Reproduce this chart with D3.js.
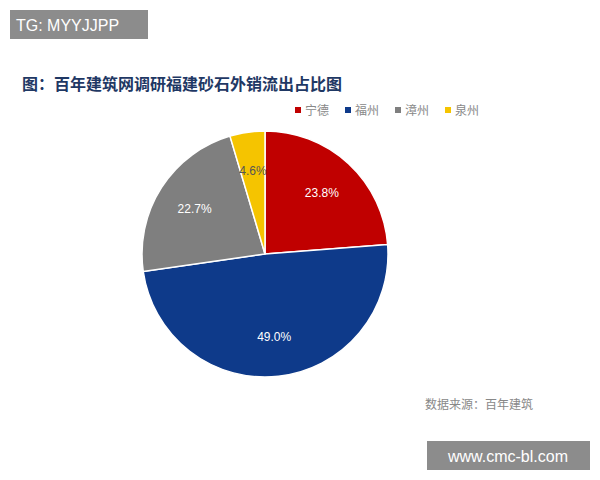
<!DOCTYPE html>
<html><head><meta charset="utf-8">
<script src="https://cdn.jsdelivr.net/npm/d3@7"></script>
<style>body{margin:0;background:#fff}</style>
</head><body>
<svg id="chart" width="600" height="480"></svg>
<script>
var regions = ["宁德", "福州", "漳州", "泉州"];
var shares = [23.8, 49.0, 22.7, 4.6];
var colors = ["#c00000", "#0e3a8a", "#7f7f7f", "#f5c400"];

var svg = d3.select("#chart");
var cjk = "'Noto Sans CJK SC', sans-serif";

// watermark boxes
svg.append("rect").attr("x", 10).attr("y", 10).attr("width", 138).attr("height", 29).attr("fill", "#8c8c8c");
svg.append("text").attr("x", 16).attr("y", 31).attr("fill", "#fff")
  .style("font", "16px 'Liberation Sans', Arial").text("TG: MYYJJPP");
svg.append("rect").attr("x", 427).attr("y", 441).attr("width", 163).attr("height", 29).attr("fill", "#8c8c8c");
svg.append("text").attr("x", 508).attr("y", 462).attr("fill", "#fff").attr("text-anchor", "middle")
  .style("font", "16px 'Liberation Sans', Arial").text("www.cmc-bl.com");

svg.append("text").attr("x", 22).attr("y", 90).attr("fill", "#1f3864")
  .style("font", "bold 16px " + cjk).text("图：百年建筑网调研福建砂石外销流出占比图");

// legend
var lg = svg.append("g").selectAll("g").data(regions).enter().append("g")
  .attr("transform", function(d, i) { return "translate(" + (295 + i * 50) + ",111)"; });
lg.append("rect").attr("x", 0).attr("y", -4).attr("width", 6).attr("height", 6)
  .attr("fill", function(d, i) { return colors[i]; });
lg.append("text").attr("x", 10).attr("y", 4).attr("fill", "#888")
  .style("font", "12px " + cjk).text(function(d) { return d; });

// pie
var r = 123;
var g = svg.append("g").attr("transform", "translate(265,254)");
var pie = d3.pie().sort(null).value(function(d) { return d; });
var arc = d3.arc().innerRadius(0).outerRadius(r);
var labelArc = d3.arc().innerRadius(r * 0.68).outerRadius(r * 0.68);
var arcs = pie(shares);
g.selectAll("path").data(arcs).enter().append("path")
  .attr("d", arc).attr("fill", function(d, i) { return colors[i]; })
  .attr("stroke", "#fff").attr("stroke-width", 1.5);
g.selectAll("text").data(arcs).enter().append("text")
  .attr("transform", function(d) { return "translate(" + labelArc.centroid(d) + ")"; })
  .attr("text-anchor", "middle").attr("dy", "0.35em")
  .attr("fill", function(d, i) { return i == 3 ? "#555" : "#fff"; })
  .style("font", "12px 'Liberation Sans', Arial")
  .text(function(d) { return d.data.toFixed(1) + "%"; });

svg.append("text").attr("x", 425).attr("y", 409).attr("fill", "#888")
  .style("font", "12px " + cjk).text("数据来源：百年建筑");
</script>
</body></html>
